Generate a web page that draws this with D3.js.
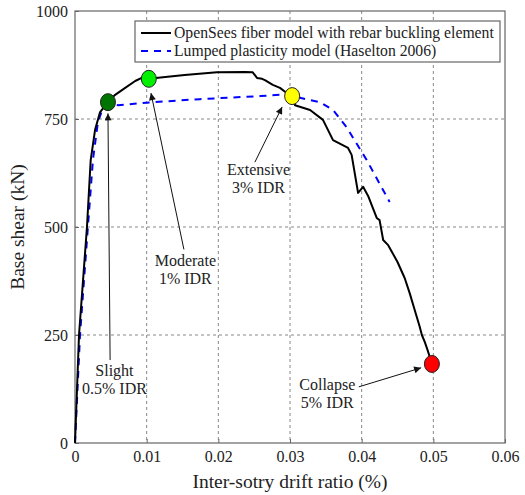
<!DOCTYPE html>
<html>
<head>
<meta charset="utf-8">
<script src="https://cdn.jsdelivr.net/npm/d3@7"></script>
<style>
body { margin: 0; background: #fff; }
svg text { font-family: "Liberation Serif", "DejaVu Serif", serif; fill: #222; }
.grid line { stroke: #888; stroke-dasharray: 3,3; }
</style>
</head>
<body>
<svg width="525" height="495"></svg>
<script>
// OpenSees fiber model (drift, base shear kN)
var fiberX = [0, 0.00056, 0.00167, 0.00219, 0.0028, 0.0035, 0.0046, 0.0056, 0.0070, 0.0084, 0.0093, 0.0103,
  0.0126, 0.0153, 0.0198, 0.0237, 0.0248, 0.0254, 0.0261, 0.0265, 0.0276, 0.0286, 0.0294, 0.0303,
  0.0307, 0.0328, 0.0346, 0.0360, 0.0381, 0.0386, 0.0395, 0.0402, 0.0409, 0.0421, 0.0425, 0.0430,
  0.0437, 0.0450, 0.0460, 0.0467, 0.0474, 0.0481, 0.0484, 0.0488, 0.0492, 0.0495, 0.0498];
var fiberY = [0, 250, 500, 655, 725, 766, 789, 806, 822, 838, 845, 843,
  847, 852, 858, 859, 858, 845, 843, 840, 829, 822, 812, 803,
  782, 771, 748, 701, 683, 667, 579, 593, 572, 521, 516, 470,
  458, 419, 382, 347, 308, 269, 250, 234, 215, 199, 183];

// Lumped plasticity model (Haselton 2006)
var lumpX = [0, 0.0007, 0.0018, 0.0025, 0.0032, 0.0038, 0.0053, 0.0060, 0.0109, 0.0174, 0.0258, 0.0286,
  0.0314, 0.0342, 0.0360, 0.0379, 0.0407, 0.0439];
var lumpY = [0, 250, 500, 655, 743, 771, 785, 782, 789, 796, 803, 806,
  799, 789, 771, 731, 655, 558];

// damage states
var stateX = [0.0046, 0.0103, 0.0303, 0.0498];
var stateY = [789, 843, 803, 183];
var stateColor = ["#007400", "#00f000", "#ffff00", "#ff0000"];
var stateName = ["Slight", "Moderate", "Extensive", "Collapse"];
var stateIdr = ["0.5% IDR", "1% IDR", "3% IDR", "5% IDR"];
// label anchor (data units) and arrow start/end
var labelX = [0.0055, 0.0154, 0.0256, 0.0352];
var labelY = [155, 410, 620, 123];
var arrowFrom = [[0.0049, 192], [0.0152, 448], [0.0251, 650], [0.0396, 130]];
var arrowTo = [[0.0046, 763], [0.0106, 810], [0.0289, 778], [0.0483, 174]];

var xTicks = [0, 0.01, 0.02, 0.03, 0.04, 0.05, 0.06];
var yTicks = [0, 250, 500, 750, 1000];

var svg = d3.select("svg");
var serif = "'Liberation Serif', 'DejaVu Serif', serif";
var margin = {left: 75, top: 11, right: 20, bottom: 52};
var width = 525 - margin.left - margin.right;
var height = 495 - margin.top - margin.bottom;

var x = d3.scaleLinear().domain([0, 0.06]).range([0, width]);
var y = d3.scaleLinear().domain([0, 1000]).range([height, 0]);

var defs = svg.append("defs");
defs.append("marker").attr("id", "head")
  .attr("viewBox", "0 0 10 10").attr("refX", 10).attr("refY", 5)
  .attr("markerWidth", 9).attr("markerHeight", 7).attr("markerUnits", "userSpaceOnUse")
  .attr("orient", "auto")
  .append("path").attr("d", "M0,0L10,5L0,10z").attr("fill", "#111");

var g = svg.append("g").attr("transform", "translate(" + margin.left + "," + margin.top + ")");

// grid
g.append("g").attr("class", "grid")
  .selectAll("line").data(xTicks.slice(1, -1)).enter().append("line")
  .attr("x1", d => x(d)).attr("x2", d => x(d)).attr("y1", 0).attr("y2", height);
g.append("g").attr("class", "grid")
  .selectAll("line").data(yTicks.slice(1, -1)).enter().append("line")
  .attr("y1", d => y(d)).attr("y2", d => y(d)).attr("x1", 0).attr("x2", width);

// axes
var xAxis = g.append("g").attr("transform", "translate(0," + height + ")")
  .call(d3.axisBottom(x).tickValues(xTicks).tickFormat(d => d === 0 ? "0" : d3.format(".2f")(d))
    .tickSizeInner(-4).tickSizeOuter(0).tickPadding(8));
var yAxis = g.append("g")
  .call(d3.axisLeft(y).tickValues(yTicks).tickFormat(d3.format("d"))
    .tickSizeInner(-4).tickSizeOuter(0).tickPadding(7));
[xAxis, yAxis].forEach(function(a) {
  a.attr("font-family", serif).attr("font-size", 16);
  a.select(".domain").remove();
  a.selectAll(".tick line").attr("stroke", "#666");
  a.selectAll(".tick text").attr("fill", "#333");
});
g.append("rect").attr("width", width).attr("height", height)
  .attr("fill", "none").attr("stroke", "#666").attr("stroke-width", 1.2);

// curves
var line = d3.line().x(d => x(d[0])).y(d => y(d[1]));
g.append("path").datum(lumpX.map((d, i) => [d, lumpY[i]]))
  .attr("d", line).attr("fill", "none").attr("stroke", "#0000ff")
  .attr("stroke-width", 2).attr("stroke-dasharray", "7,6");
g.append("path").datum(fiberX.map((d, i) => [d, fiberY[i]]))
  .attr("d", line).attr("fill", "none").attr("stroke", "#000")
  .attr("stroke-width", 2).attr("stroke-linejoin", "round");

// arrows
g.selectAll(".arrow").data(arrowFrom).enter().append("line")
  .attr("class", "arrow")
  .attr("x1", d => x(d[0])).attr("y1", d => y(d[1]))
  .attr("x2", (d, i) => x(arrowTo[i][0])).attr("y2", (d, i) => y(arrowTo[i][1]))
  .attr("stroke", "#111").attr("stroke-width", 1)
  .attr("marker-end", "url(#head)");

// markers
g.selectAll(".state").data(stateX).enter().append("ellipse")
  .attr("cx", d => x(d)).attr("cy", (d, i) => y(stateY[i]))
  .attr("rx", 7.5).attr("ry", 8.5)
  .attr("fill", (d, i) => stateColor[i]).attr("stroke", "#222").attr("stroke-width", 1);

// labels
var lab = g.selectAll(".lab").data(stateName).enter().append("text")
  .attr("text-anchor", "middle").attr("font-family", serif).style("font-size", "16px")
  .attr("x", (d, i) => x(labelX[i])).attr("y", (d, i) => y(labelY[i]));
lab.append("tspan").text(d => d);
lab.append("tspan").attr("x", (d, i) => x(labelX[i])).attr("dy", 18).text((d, i) => stateIdr[i]);

// legend
var leg = g.append("g").attr("transform", "translate(60,10)");
leg.append("rect").attr("width", 365).attr("height", 41)
  .attr("fill", "#fff").attr("stroke", "#666").attr("stroke-width", 1.2);
leg.append("line").attr("x1", 6).attr("x2", 36).attr("y1", 12).attr("y2", 12)
  .attr("stroke", "#000").attr("stroke-width", 2);
leg.append("line").attr("x1", 6).attr("x2", 36).attr("y1", 30).attr("y2", 30)
  .attr("stroke", "#0000ff").attr("stroke-width", 2).attr("stroke-dasharray", "7,6");
leg.append("text").attr("x", 39).attr("y", 17).attr("font-family", serif).style("font-size", "15.7px")
  .text("OpenSees fiber model with rebar buckling element");
leg.append("text").attr("x", 39).attr("y", 35).attr("font-family", serif).style("font-size", "15.7px")
  .text("Lumped plasticity model (Haselton 2006)");

// axis titles
g.append("text").attr("x", width / 2).attr("y", height + 45)
  .attr("text-anchor", "middle").attr("font-family", serif).style("font-size", "19.5px")
  .text("Inter-sotry drift ratio (%)");
g.append("text").attr("transform", "translate(-51," + (height / 2) + ") rotate(-90)")
  .attr("text-anchor", "middle").attr("font-family", serif).style("font-size", "19.5px")
  .text("Base shear (kN)");
</script>
</body>
</html>
